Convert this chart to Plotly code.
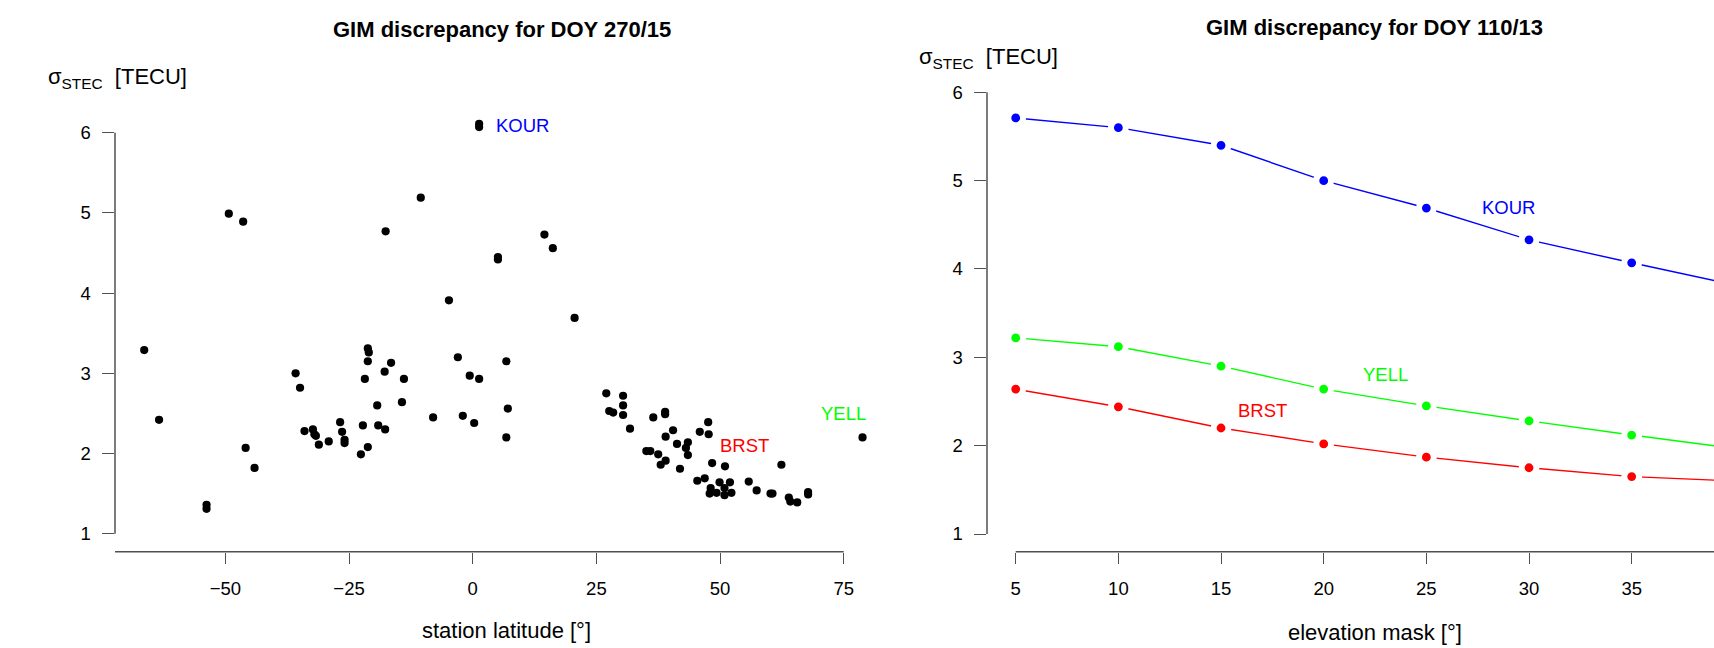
import plotly.graph_objects as go

W, H = 1714, 648

# ---------------- data ----------------
# Left panel: station latitude vs sigma_STEC (DOY 270/15)
lat = [-49.3, -46.4, -10.5, -17.6, 1.3, 1.3, 5.1, 5.1, 14.5, 16.2, -4.8, 20.6,
       -66.4, -63.4, -53.8, -53.8, -45.9, -44.1,
       -35.8, -34.9, -34.0, -32.3, -32.0, -31.7, -31.1, -29.1, -26.8, -26.4, -25.9, -25.9,
       -22.6, -21.2, -22.2, -21.8, -21.2, -21.0, -21.2, -17.8, -16.5, -19.3, -19.1, -17.7,
       -14.3, -13.9, -8.0, -3.0, -2.0, -0.6, 1.3, 0.3, 6.8, 7.1, 6.8,
       27.0, 30.4, 30.4, 27.6, 28.4, 30.4, 31.8, 36.5, 38.9, 38.9, 40.5, 39.0, 45.9, 47.6,
       47.7, 41.3, 43.5, 43.1, 43.5, 35.1, 35.9, 37.5, 39.0, 38.0, 41.9, 48.4, 51.0, 62.4,
       45.4, 46.9, 49.9, 52.0, 48.1, 47.9, 49.3, 50.9, 52.3, 50.9, 55.8, 57.4, 60.2, 60.6,
       63.9, 64.2, 65.6, 67.8, 67.8,
       78.8]
sigma = [4.99, 4.89, 5.19, 4.77, 6.07, 6.11, 4.45, 4.42, 4.73, 4.56, 3.91, 3.69,
         3.29, 2.42, 1.36, 1.31, 2.07, 1.82,
         3.00, 2.82, 2.28, 2.30, 2.24, 2.22, 2.11, 2.15, 2.39, 2.27, 2.17, 2.13,
         1.99, 2.08, 2.35, 2.93, 3.31, 3.26, 3.15, 3.02, 3.13, 2.60, 2.35, 2.30,
         2.64, 2.93, 2.45, 3.20, 2.47, 2.97, 2.93, 2.38, 3.15, 2.56, 2.20,
         2.75, 2.72, 2.60, 2.53, 2.51, 2.48, 2.31, 2.45, 2.52, 2.49, 2.29, 2.21, 2.27, 2.39,
         2.24, 2.12, 2.14, 2.07, 1.98, 2.03, 2.03, 1.99, 1.91, 1.86, 1.81, 1.88, 1.84, 1.86,
         1.66, 1.69, 1.64, 1.64, 1.57, 1.50, 1.51, 1.48, 1.51, 1.57, 1.65, 1.54, 1.50, 1.50,
         1.45, 1.40, 1.39, 1.52, 1.49,
         2.20]

left_labels = ["KOUR", "BRST", "YELL"]
left_label_x = [10, 55, 75]
left_label_y = [6.09, 2.10, 2.50]

# Right panel: elevation mask vs sigma_STEC (DOY 110/13)
mask = [5, 10, 15, 20, 25, 30, 35, 40]
kour = [5.71, 5.60, 5.40, 5.00, 4.69, 4.33, 4.07, 3.82]
yell = [3.22, 3.12, 2.90, 2.64, 2.45, 2.28, 2.12, 1.97]
brst = [2.64, 2.44, 2.20, 2.02, 1.87, 1.75, 1.65, 1.60]

right_labels = ["KOUR", "YELL", "BRST"]
right_label_x = [29, 23, 17]
right_label_y = [4.70, 2.80, 2.40]

left_xticks = [-50, -25, 0, 25, 50, 75]
right_xticks = [5, 10, 15, 20, 25, 30, 35, 40]
yticks = [1, 2, 3, 4, 5, 6]

BLUE, GREEN, RED = "#0000ff", "#00ff00", "#ff0000"
FONT = "Liberation Sans, Arial, Helvetica, sans-serif"
AXC = "#505050"


def px_x(p):
    return p / W


def px_y(p):
    return 1 - p / H


# ---------------- geometry (pixel calibration) ----------------
# left panel
L_x0, L_x1 = 115, 885
L_zero, L_ppu = 472.7, 4.947
L_ybot, L_ytop = 551.7, 110
L_y6, L_yppu = 132.7, 80.2
lx_range = [(L_x0 - L_zero) / L_ppu, (L_x1 - L_zero) / L_ppu]
ly_range = [6 - (L_ybot - L_y6) / L_yppu, 6 + (L_y6 - L_ytop) / L_yppu]

# right panel
R_x0, R_x1 = 987, 1714
R_five, R_ppu = 1015.7, 20.533
R_ybot, R_ytop = 551.7, 70
R_y6, R_yppu = 92.3, 88.34
rx_range = [5 + (R_x0 - R_five) / R_ppu, 5 + (R_x1 - R_five) / R_ppu]
ry_range = [6 - (R_ybot - R_y6) / R_yppu, 6 + (R_y6 - R_ytop) / R_yppu]

fig = go.Figure()

fig.add_trace(go.Scatter(
    x=lat, y=sigma, mode="markers", xaxis="x", yaxis="y",
    marker=dict(color="black", size=8.2), showlegend=False, hoverinfo="x+y"))

for vals, col in [(kour, BLUE), (yell, GREEN), (brst, RED)]:
    fig.add_trace(go.Scatter(
        x=mask, y=vals, mode="lines+markers", xaxis="x2", yaxis="y2",
        line=dict(color=col, width=1.4),
        marker=dict(color=col, size=14.8, line=dict(color="white", width=6)),
        showlegend=False))

tick_common = dict(
    showgrid=False, zeroline=False, showline=False,
    ticks="outside", ticklen=11.6, tickwidth=1.4, tickcolor=AXC,
    tickfont=dict(family=FONT, size=18.5, color="black"),
    tickmode="array", fixedrange=True,
)

fig.update_layout(
    width=W, height=H,
    margin=dict(l=0, r=0, t=0, b=0),
    paper_bgcolor="white", plot_bgcolor="white",
    font=dict(family=FONT, color="black"),
    xaxis=dict(domain=[px_x(L_x0), px_x(L_x1)], range=lx_range, anchor="y",
               tickvals=left_xticks, ticklabelstandoff=8, **tick_common),
    yaxis=dict(domain=[px_y(L_ybot), px_y(L_ytop)], range=ly_range, anchor="x",
               tickvals=yticks, ticklabelstandoff=8, **tick_common),
    xaxis2=dict(domain=[px_x(R_x0), px_x(R_x1)], range=rx_range, anchor="y2",
                tickvals=right_xticks, ticklabelstandoff=8, **tick_common),
    yaxis2=dict(domain=[px_y(R_ybot), px_y(R_ytop)], range=ry_range, anchor="x2",
                tickvals=yticks, ticklabelstandoff=8, **tick_common),
)

# axis lines (R style: spanning tick range)
line_style = dict(color=AXC, width=1.5)
fig.add_shape(type="line", xref="x domain", yref="y", x0=0, x1=0, y0=min(yticks), y1=max(yticks), line=line_style)
fig.add_shape(type="line", xref="x", yref="y domain", x0=lx_range[0], x1=max(left_xticks), y0=0, y1=0, line=line_style)
fig.add_shape(type="line", xref="x2 domain", yref="y2", x0=0, x1=0, y0=min(yticks), y1=max(yticks), line=line_style)
fig.add_shape(type="line", xref="x2", yref="y2 domain", x0=min(right_xticks), x1=rx_range[1], y0=0, y1=0, line=line_style)

# station labels
for name, x, y, col in zip(left_labels, left_label_x, left_label_y, [BLUE, RED, GREEN]):
    fig.add_annotation(x=x, y=y, xref="x", yref="y", text=name, showarrow=False,
                       font=dict(family=FONT, size=18.5, color=col), xanchor="center", yanchor="middle")
for name, x, y, col in zip(right_labels, right_label_x, right_label_y, [BLUE, GREEN, RED]):
    fig.add_annotation(x=x, y=y, xref="x2", yref="y2", text=name, showarrow=False,
                       font=dict(family=FONT, size=18.5, color=col), xanchor="center", yanchor="middle")

# titles and axis labels
def ann(text, xp, yp, size, xanchor="center"):
    fig.add_annotation(x=px_x(xp), y=px_y(yp), xref="paper", yref="paper", text=text,
                       showarrow=False, font=dict(family=FONT, size=size, color="black"),
                       xanchor=xanchor, yanchor="middle")

ann("<b>GIM discrepancy for DOY 270/15</b>", 502, 30, 22)
ann("<b>GIM discrepancy for DOY 110/13</b>", 1374, 28, 22)
ann("station latitude [°]", 506, 630, 22)
ann("elevation mask [°]", 1375, 632, 22)
ann("σ<sub>STEC</sub>\u00a0\u00a0[TECU]", 46, 78, 22, xanchor="left")
ann("σ<sub>STEC</sub>\u00a0\u00a0[TECU]", 917, 58, 22, xanchor="left")

fig.write_html("out.html")
